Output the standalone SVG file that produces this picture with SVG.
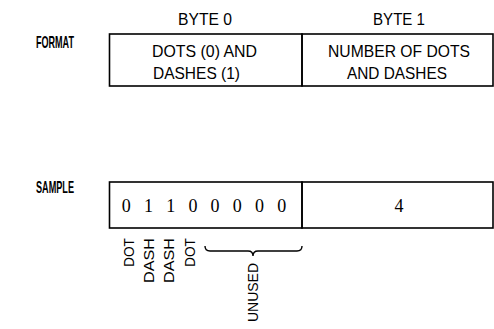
<svg xmlns="http://www.w3.org/2000/svg" width="494" height="329" viewBox="0 0 494 329">
<style>
.box{fill:none;stroke:#000;stroke-width:1.6}
.t{font-family:"Liberation Sans",Arial,sans-serif;font-size:17px;fill:#000;text-anchor:middle}
.lbl{font-family:"Liberation Sans",Arial,sans-serif;font-size:17px;font-weight:bold;fill:#000}
.d{font-family:"Liberation Serif","Times New Roman",serif;font-size:18px;fill:#000;text-anchor:middle}
.r{font-family:"Liberation Sans",Arial,sans-serif;font-size:15px;fill:#000;text-anchor:end}
.brace{fill:none;stroke:#000;stroke-width:1.4}
</style>
<rect width="494" height="329" fill="#fff"/>
<g id="format-label"><text class="lbl" x="36" y="48" textLength="38" lengthAdjust="spacingAndGlyphs">FORMAT</text></g>
<g id="byte0-header"><text class="t" x="205" y="25" textLength="54" lengthAdjust="spacingAndGlyphs">BYTE 0</text></g>
<g id="byte1-header"><text class="t" x="399" y="25" textLength="52" lengthAdjust="spacingAndGlyphs">BYTE 1</text></g>
<g id="format-byte0">
<rect class="box" x="109.5" y="34" width="192.5" height="52"/>
<text class="t" x="204.5" y="57" textLength="105" lengthAdjust="spacingAndGlyphs">DOTS (0) AND</text>
<text class="t" x="196.5" y="79" textLength="87" lengthAdjust="spacingAndGlyphs">DASHES (1)</text>
</g>
<g id="format-byte1">
<rect class="box" x="302" y="34" width="191" height="52"/>
<text class="t" x="399" y="57" textLength="142" lengthAdjust="spacingAndGlyphs">NUMBER OF DOTS</text>
<text class="t" x="397" y="79" textLength="100" lengthAdjust="spacingAndGlyphs">AND DASHES</text>
</g>
<g id="sample-label"><text class="lbl" x="36" y="193" textLength="38" lengthAdjust="spacingAndGlyphs">SAMPLE</text></g>
<g id="sample-byte0">
<rect class="box" x="109.5" y="182" width="192.5" height="46"/>
<text class="d" x="126.3" y="212">0</text>
<text class="d" x="148.5" y="212">1</text>
<text class="d" x="170.7" y="212">1</text>
<text class="d" x="192.9" y="212">0</text>
<text class="d" x="215.1" y="212">0</text>
<text class="d" x="237.3" y="212">0</text>
<text class="d" x="259.5" y="212">0</text>
<text class="d" x="281.7" y="212">0</text>
</g>
<g id="sample-byte1">
<rect class="box" x="302" y="182" width="191" height="46"/>
<text class="d" x="399" y="212">4</text>
</g>
<g id="bit-labels">
<text class="r" transform="translate(133.5,238) rotate(-90)" textLength="29" lengthAdjust="spacingAndGlyphs">DOT</text>
<text class="r" transform="translate(154,238) rotate(-90)" textLength="45" lengthAdjust="spacingAndGlyphs">DASH</text>
<text class="r" transform="translate(174,238) rotate(-90)" textLength="45" lengthAdjust="spacingAndGlyphs">DASH</text>
<text class="r" transform="translate(195,238) rotate(-90)" textLength="29" lengthAdjust="spacingAndGlyphs">DOT</text>
</g>
<g id="unused">
<path class="brace" d="M205,246 Q205,251 210,251 L248,251 Q253,251 253,256 Q253,251 258,251 L297,251 Q302,251 302,246"/>
<text class="r" transform="translate(258,263) rotate(-90)" textLength="59" lengthAdjust="spacingAndGlyphs">UNUSED</text>
</g>
</svg>
